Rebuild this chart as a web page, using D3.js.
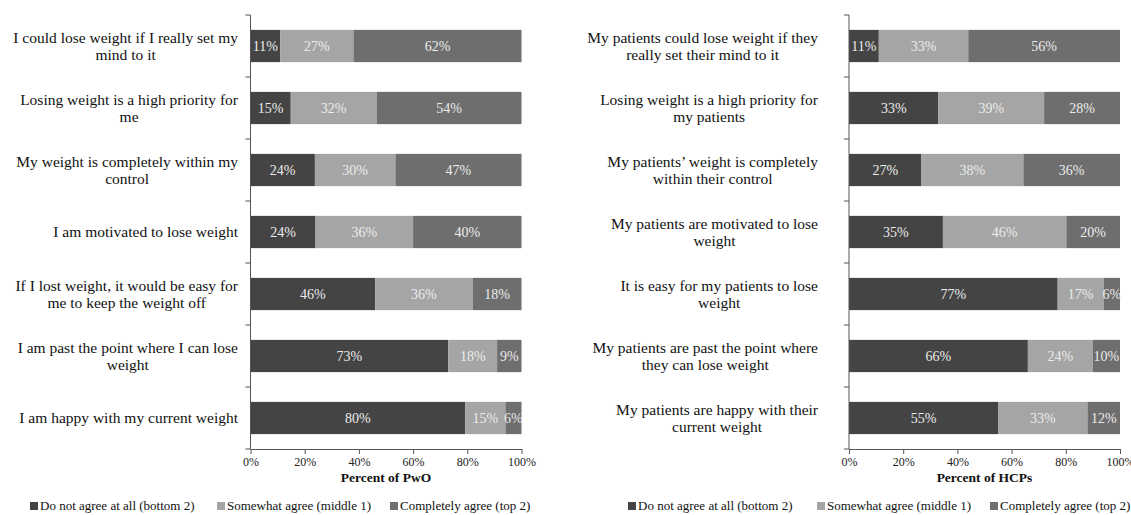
<!DOCTYPE html>
<html>
<head>
<meta charset="utf-8">
<script src="https://cdn.jsdelivr.net/npm/d3@7"></script>
<style>
  body { margin: 0; background: #fff; }
  svg text { font-family: "Liberation Serif", "Times New Roman", Times, serif; }
</style>
</head>
<body>
<svg id="chart" width="1131" height="515"></svg>
<script>
// Response categories (stack order, left to right)
const seriesKeys = ["Do not agree at all (bottom 2)", "Somewhat agree (middle 1)", "Completely agree (top 2)"];
const seriesColors = ["#444444", "#a5a5a5", "#6e6e6e"];

// People with obesity (PwO)
const pwoStatements = [
  ["I could lose weight if I really set my", "mind to it"],
  ["Losing weight is a high priority for", "me"],
  ["My weight is completely within my", "control"],
  ["I am motivated to lose weight"],
  ["If I lost weight, it would be easy for", "me to keep the weight off"],
  ["I am past the point where I can lose", "weight"],
  ["I am happy with my current weight"]
];
const pwoDisagree = [11, 15, 24, 24, 46, 73, 80];
const pwoSomewhat = [27, 32, 30, 36, 36, 18, 15];
const pwoComplete = [62, 54, 47, 40, 18, 9, 6];

// Healthcare professionals (HCPs)
const hcpStatements = [
  ["My patients could lose weight if they", "really set their mind to it"],
  ["Losing weight is a high priority for", "my patients"],
  ["My patients\u2019 weight is completely", "within their control"],
  ["My patients are motivated to lose", "weight"],
  ["It is easy for my patients to lose", "weight"],
  ["My patients are past the point where", "they can lose weight"],
  ["My patients are happy with their", "current weight"]
];
const hcpDisagree = [11, 33, 27, 35, 77, 66, 55];
const hcpSomewhat = [33, 39, 38, 46, 17, 24, 33];
const hcpComplete = [56, 28, 36, 20, 6, 10, 12];

const xTicks = [0, 0.2, 0.4, 0.6, 0.8, 1.0];

const FONT = '"Liberation Serif", "Times New Roman", Times, serif';
const svg = d3.select("#chart");

function panel(opts) {
  const rows = opts.statements.map((s, i) => ({
    id: i,
    lines: s,
    [seriesKeys[0]]: opts.a[i],
    [seriesKeys[1]]: opts.b[i],
    [seriesKeys[2]]: opts.c[i]
  }));

  const x = d3.scaleLinear().domain([0, 1]).range([opts.x0, opts.x1]);
  const y = d3.scaleBand().domain(rows.map(d => d.id)).range([15, 449])
    .paddingInner(0.48).paddingOuter(0.24);
  const color = d3.scaleOrdinal().domain(seriesKeys).range(seriesColors);

  const stacked = d3.stack().keys(seriesKeys).offset(d3.stackOffsetExpand)(rows);

  const g = svg.append("g").style("font-family", FONT);

  // stacked bar segments
  const layer = g.selectAll("g.layer").data(stacked).join("g")
    .attr("class", "layer").attr("fill", d => color(d.key));
  layer.selectAll("rect").data(d => d.map(p => ({ p, key: d.key }))).join("rect")
    .attr("x", d => x(d.p[0]))
    .attr("y", d => y(d.p.data.id))
    .attr("width", d => x(d.p[1]) - x(d.p[0]))
    .attr("height", y.bandwidth());

  // value labels inside segments
  layer.selectAll("text").data(d => d.map(p => ({ p, key: d.key }))).join("text")
    .attr("x", d => (x(d.p[0]) + x(d.p[1])) / 2)
    .attr("y", d => y(d.p.data.id) + y.bandwidth() / 2)
    .attr("dy", "0.35em")
    .attr("text-anchor", "middle")
    .attr("fill", "#ececec")
    .style("font-family", FONT)
    .style("font-size", "14px")
    .text(d => d.p.data[d.key] + "%");

  // vertical category axis with outward ticks at band boundaries
  const axisColor = "#555";
  g.append("line")
    .attr("x1", opts.x0).attr("x2", opts.x0)
    .attr("y1", y.range()[0]).attr("y2", y.range()[1])
    .attr("stroke", axisColor);
  const bounds = d3.range(rows.length + 1).map(i => y.range()[0] + i * y.step());
  g.selectAll("line.ytick").data(bounds).join("line")
    .attr("class", "ytick")
    .attr("x1", opts.x0 - 5).attr("x2", opts.x0)
    .attr("y1", d => d).attr("y2", d => d)
    .attr("stroke", axisColor);

  // statement labels: lines centred on each other, block right-aligned
  const lab = g.selectAll("g.lab").data(rows).join("g").attr("class", "lab");
  lab.each(function (d) {
    const sel = d3.select(this);
    const n = d.lines.length;
    const cy = y(d.id) + y.bandwidth() / 2;
    const texts = sel.selectAll("text").data(d.lines).join("text")
      .attr("y", (t, j) => cy + (j - (n - 1) / 2) * 17.5)
      .attr("dy", "0.35em")
      .attr("text-anchor", "middle")
      .attr("fill", "#111")
      .style("font-family", FONT)
      .style("font-size", "15.5px")
      .text(t => t);
    let maxW = 0;
    texts.each(function () { maxW = Math.max(maxW, this.getComputedTextLength()); });
    texts.attr("x", opts.labelRight - maxW / 2);
  });

  // percent axis
  const xAxis = d3.axisBottom(x).tickValues(xTicks).tickFormat(d3.format(".0%"))
    .tickSizeInner(5).tickSizeOuter(0);
  const ax = g.append("g").attr("transform", `translate(0,449)`).call(xAxis)
    .attr("font-family", null);
  ax.select(".domain").attr("stroke", axisColor);
  ax.selectAll(".tick line").attr("stroke", axisColor);
  ax.selectAll(".tick text")
    .attr("fill", "#222")
    .attr("y", 8)
    .style("font-family", FONT)
    .style("font-size", "12px");

  g.append("text")
    .attr("x", (opts.x0 + opts.x1) / 2)
    .attr("y", 482)
    .attr("text-anchor", "middle")
    .attr("font-weight", "bold")
    .attr("fill", "#111")
    .style("font-family", FONT)
    .style("font-size", "13.5px")
    .text(opts.title);

  // legend
  const leg = g.selectAll("g.leg").data(seriesKeys).join("g")
    .attr("class", "leg")
    .attr("transform", (d, i) => `translate(${opts.legendX[i]},509)`);
  leg.append("rect").attr("x", 0).attr("y", -7).attr("width", 8).attr("height", 8)
    .attr("fill", d => color(d));
  leg.append("text").attr("x", 10).attr("y", 0).attr("dy", "0.1em")
    .attr("fill", "#111")
    .style("font-family", FONT)
    .style("font-size", "13px").text(d => d);
}

panel({
  statements: pwoStatements, a: pwoDisagree, b: pwoSomewhat, c: pwoComplete,
  x0: 250.5, x1: 521.5, labelRight: 238, title: "Percent of PwO",
  legendX: [30, 217, 390]
});
panel({
  statements: hcpStatements, a: hcpDisagree, b: hcpSomewhat, c: hcpComplete,
  x0: 849, x1: 1120, labelRight: 818, title: "Percent of HCPs",
  legendX: [628, 817, 990]
});
</script>
</body>
</html>
